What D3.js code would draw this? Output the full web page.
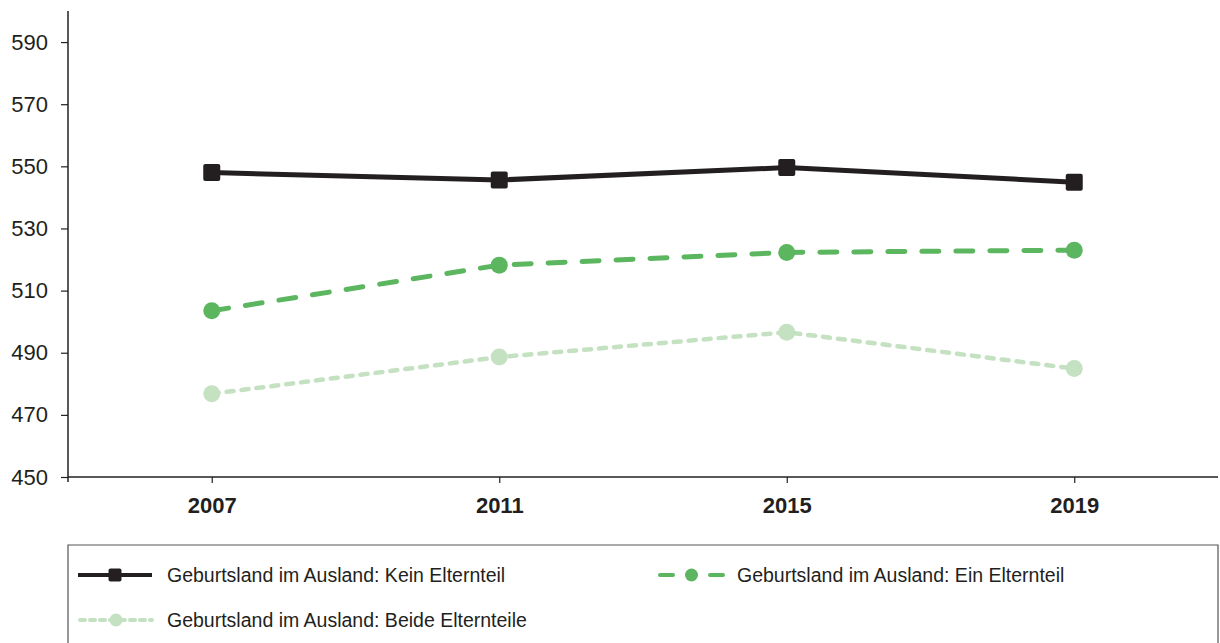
<!DOCTYPE html>
<html>
<head>
<meta charset="utf-8">
<script src="https://cdn.jsdelivr.net/npm/d3@7"></script>
<style>
  body { margin: 0; background: #fff; }
  svg { display: block; font-family: "Liberation Sans", Arial, sans-serif; }
</style>
</head>
<body>
<script>
// Data
const years = ["2007", "2011", "2015", "2019"];
const keinElternteil = [548.0, 545.6, 549.6, 544.9];
const einElternteil = [503.5, 518.2, 522.3, 523.0];
const beideElternteile = [476.8, 488.6, 496.6, 484.9];
const yTicks = [450, 470, 490, 510, 530, 550, 570, 590];

const seriesNames = [
    "Geburtsland im Ausland: Kein Elternteil",
    "Geburtsland im Ausland: Ein Elternteil",
    "Geburtsland im Ausland: Beide Elternteile"
];

const series = [
    { name: seriesNames[0], values: keinElternteil, color: "#231f20", dash: null, marker: "square", width: 5 },
    { name: seriesNames[1], values: einElternteil, color: "#5cb660", dash: "17,17", marker: "circle", width: 5 },
    { name: seriesNames[2], values: beideElternteile, color: "#c4e1c1", dash: "7,8", marker: "circle", width: 4.5 }
];

const textColor = "#231f20";
const W = 1220, H = 643;
const plot = { left: 68, right: 1218, top: 11, bottom: 477 };

const svg = d3.select("body").append("svg")
    .attr("width", W)
    .attr("height", H);

const x = d3.scalePoint().domain(years).range([plot.left, plot.right]).padding(0.5);
const y = d3.scaleLinear().domain([450, 600]).range([plot.bottom, plot.top]);

// Y axis
const yAxis = svg.append("g")
    .attr("transform", `translate(${plot.left},0)`)
    .call(d3.axisLeft(y).tickValues(yTicks).tickSize(7).tickPadding(13));
yAxis.select(".domain").remove();
yAxis.selectAll("line").attr("stroke", textColor).attr("stroke-width", 1.2);
yAxis.selectAll("text")
    .attr("fill", textColor)
    .style("font-size", "22px");

svg.append("line")
    .attr("x1", plot.left).attr("x2", plot.left)
    .attr("y1", plot.top).attr("y2", plot.bottom + 5)
    .attr("stroke", textColor).attr("stroke-width", 1.5);

// X axis
const xAxis = svg.append("g")
    .attr("transform", `translate(0,${plot.bottom})`)
    .call(d3.axisBottom(x).tickSize(6).tickPadding(14));
xAxis.select(".domain").remove();
xAxis.selectAll("line").attr("stroke", textColor).attr("stroke-width", 1.2);
xAxis.selectAll("text")
    .attr("fill", textColor)
    .style("font-size", "22px")
    .style("font-weight", "bold");

svg.append("line")
    .attr("x1", plot.left).attr("x2", plot.right)
    .attr("y1", plot.bottom).attr("y2", plot.bottom)
    .attr("stroke", textColor).attr("stroke-width", 1.5);

// Lines
const line = d3.line()
    .x((d, i) => x(years[i]))
    .y(d => y(d));

function drawMarker(g, s, cx, cy, size) {
    if (s.marker === "square") {
        g.append("rect")
            .attr("x", cx - size / 2).attr("y", cy - size / 2)
            .attr("width", size).attr("height", size)
            .attr("rx", 2)
            .attr("fill", s.color);
    } else {
        g.append("circle")
            .attr("cx", cx).attr("cy", cy)
            .attr("r", size / 2)
            .attr("fill", s.color);
    }
}

series.slice().reverse().forEach(s => {
    const g = svg.append("g");
    g.append("path")
        .datum(s.values)
        .attr("d", line)
        .attr("fill", "none")
        .attr("stroke", s.color)
        .attr("stroke-width", s.width)
        .attr("stroke-linecap", s.dash ? "round" : "butt")
        .attr("stroke-dasharray", s.dash);
    s.values.forEach((v, i) => drawMarker(g, s, x(years[i]), y(v), 17));
});

// Legend
const legend = svg.append("g");
legend.append("path")
    .attr("d", `M${plot.left},${H + 2}V545H${plot.right}V${H + 2}`)
    .attr("fill", "none")
    .attr("stroke", "#555")
    .attr("stroke-width", 1.2);

const legendPos = [
    { x: 78, y: 575, sx: 152, tx: 167, dash: null },
    { x: 660, y: 575, sx: 723, tx: 737, dash: "13,37" },
    { x: 80, y: 620, sx: 152, tx: 167, dash: "5,5" }
];

series.forEach((s, i) => {
    const p = legendPos[i];
    const g = legend.append("g");
    g.append("line")
        .attr("x1", p.x).attr("x2", p.sx)
        .attr("y1", p.y).attr("y2", p.y)
        .attr("stroke", s.color)
        .attr("stroke-width", 4)
        .attr("stroke-linecap", s.dash ? "round" : "butt")
        .attr("stroke-dasharray", p.dash);
    drawMarker(g, s, (p.x + p.sx) / 2, p.y, 13);
    g.append("text")
        .attr("x", p.tx)
        .attr("y", p.y)
        .attr("dy", "0.35em")
        .attr("fill", textColor)
        .style("font-size", "19.5px")
        .text(s.name);
});
</script>
</body>
</html>
